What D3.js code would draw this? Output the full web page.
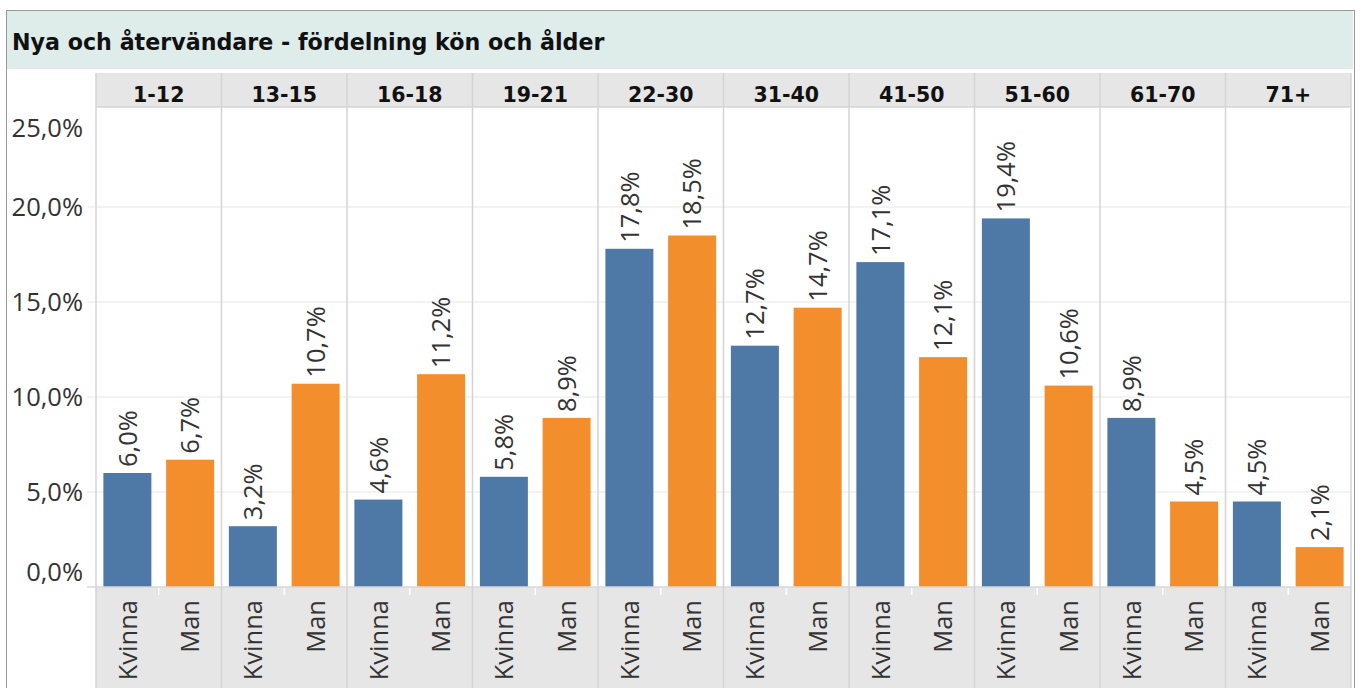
<!DOCTYPE html>
<html>
<head>
<meta charset="utf-8">
<script src="https://cdn.jsdelivr.net/npm/d3@7"></script>
<style>
  html, body { margin: 0; padding: 0; background: #fff; }
  svg { display: block; }
</style>
</head>
<body>
<svg id="chart"></svg>
<script>
// Data
const ages = ['1-12', '13-15', '16-18', '19-21', '22-30', '31-40', '41-50', '51-60', '61-70', '71+'];
const genders = ['Kvinna', 'Man'];
const kvinna = [6.0, 3.2, 4.6, 5.8, 17.8, 12.7, 17.1, 19.4, 8.9, 4.5];
const man = [6.7, 10.7, 11.2, 8.9, 18.5, 14.7, 12.1, 10.6, 4.5, 2.1];
const yTicks = [0, 5, 10, 15, 20, 25];
const title = 'Nya och återvändare - fördelning kön och ålder';

const W = 1361, H = 688;
const colors = { Kvinna: '#4e79a7', Man: '#f28e2b' };
const font = '"Open Sans", "Noto Sans", sans-serif';
const boldFont = '"DejaVu Sans", "Open Sans", sans-serif';
const fs = 25.5;

const sv = d3.formatLocale({ decimal: ',', thousands: ' ', grouping: [3], currency: ['', ' kr'] });
const pct = v => sv.format('.1f')(v) + '%';

const svg = d3.select('#chart').attr('width', W).attr('height', H);

// layout
const plotLeft = 96, plotRight = 1351;
const plotBottom = 587;
const footerBottom = 688;
const header = { y0: 73, y1: 107 };

const x0 = d3.scaleBand().domain(ages).range([plotLeft, plotRight]);
const x1 = d3.scaleBand().domain(genders).range([0, x0.bandwidth()])
  .paddingInner(0.235).paddingOuter(0.1175);
const y = d3.scaleLinear().domain([0, 25]).range([plotBottom, 112]);

// title band
svg.append('rect')
  .attr('x', 7).attr('y', 11)
  .attr('width', 1346).attr('height', 58)
  .attr('fill', '#deecea');
svg.append('text')
  .attr('x', 12).attr('y', 50)
  .attr('font-family', boldFont).attr('font-weight', 'bold').attr('font-size', 22.2)
  .attr('fill', '#111')
  .text(title);

// header row
svg.append('rect')
  .attr('x', plotLeft).attr('y', header.y0)
  .attr('width', plotRight - plotLeft).attr('height', header.y1 - header.y0)
  .attr('fill', '#e6e6e6');
svg.selectAll('.hdr').data(ages).join('text')
  .attr('class', 'hdr')
  .attr('x', d => x0(d) + x0.bandwidth() / 2)
  .attr('y', 101.5)
  .attr('text-anchor', 'middle')
  .attr('font-family', boldFont).attr('font-weight', 'bold').attr('font-size', 20.5)
  .attr('fill', '#111')
  .text(d => d);

// footer row (gender labels)
svg.append('rect')
  .attr('x', plotLeft).attr('y', plotBottom)
  .attr('width', plotRight - plotLeft).attr('height', footerBottom - plotBottom)
  .attr('fill', '#e6e6e6');

// horizontal gridlines
svg.append('g').selectAll('line').data(yTicks.filter(t => t > 0 && t < 25)).join('line')
  .attr('x1', 87).attr('x2', plotRight)
  .attr('y1', d => y(d)).attr('y2', d => y(d))
  .attr('stroke', '#efefef').attr('stroke-width', 1.5);

// y axis labels (end labels are kept inside the pane)
svg.append('g').selectAll('text').data(yTicks).join('text')
  .attr('x', 83)
  .attr('y', d => Math.min(Math.max(y(d), 128), 572))
  .attr('dy', '0.36em')
  .attr('text-anchor', 'end')
  .attr('font-family', font).attr('font-size', fs)
  .attr('fill', '#333')
  .text(d => pct(d));

// bars
const rows = ages.map((a, i) => ({ age: a, values: [
  { g: 'Kvinna', v: kvinna[i] },
  { g: 'Man', v: man[i] }
]}));

const pane = svg.append('g').selectAll('g').data(rows).join('g')
  .attr('transform', d => `translate(${x0(d.age)},0)`);

pane.selectAll('rect').data(d => d.values).join('rect')
  .attr('x', d => x1(d.g))
  .attr('width', x1.bandwidth())
  .attr('y', d => y(d.v))
  .attr('height', d => plotBottom - y(d.v))
  .attr('fill', d => colors[d.g]);

pane.selectAll('.val').data(d => d.values).join('text')
  .attr('class', 'val')
  .attr('transform', d => `translate(${x1(d.g) + x1.bandwidth() / 2},${y(d.v) - 6}) rotate(-90)`)
  .attr('dy', '0.36em')
  .attr('font-family', font).attr('font-size', fs)
  .attr('fill', '#333')
  .text(d => pct(d.v));

pane.selectAll('.gl').data(d => d.values).join('text')
  .attr('class', 'gl')
  .attr('transform', d => `translate(${x1(d.g) + x1.bandwidth() / 2},600) rotate(-90)`)
  .attr('dy', '0.36em')
  .attr('text-anchor', 'end')
  .attr('font-family', font).attr('font-size', fs)
  .attr('fill', '#333')
  .text(d => d.g);

// small white separators between genders in the footer
pane.append('line')
  .attr('x1', x0.bandwidth() / 2).attr('x2', x0.bandwidth() / 2)
  .attr('y1', plotBottom + 1).attr('y2', plotBottom + 8)
  .attr('stroke', '#fff').attr('stroke-width', 1.5);

// zero line
svg.append('line')
  .attr('x1', 87).attr('x2', plotRight)
  .attr('y1', plotBottom).attr('y2', plotBottom)
  .attr('stroke', '#d9d9d9').attr('stroke-width', 1.5);

// pane dividers
const edges = ages.map(a => x0(a)).concat([plotRight]);
svg.append('g').selectAll('line').data(edges).join('line')
  .attr('x1', d => d).attr('x2', d => d)
  .attr('y1', header.y0).attr('y2', footerBottom)
  .attr('stroke', '#d4d4d4').attr('stroke-width', 1.5);
svg.append('line')
  .attr('x1', plotLeft).attr('x2', plotRight)
  .attr('y1', header.y1).attr('y2', header.y1)
  .attr('stroke', '#d4d4d4').attr('stroke-width', 1.5);

// dotted frame
svg.append('rect')
  .attr('x', 6.5).attr('y', 10.5)
  .attr('width', 1348).attr('height', 690)
  .attr('fill', 'none').attr('stroke', '#333')
  .attr('stroke-width', 1).attr('stroke-dasharray', '1,1');
</script>
</body>
</html>
